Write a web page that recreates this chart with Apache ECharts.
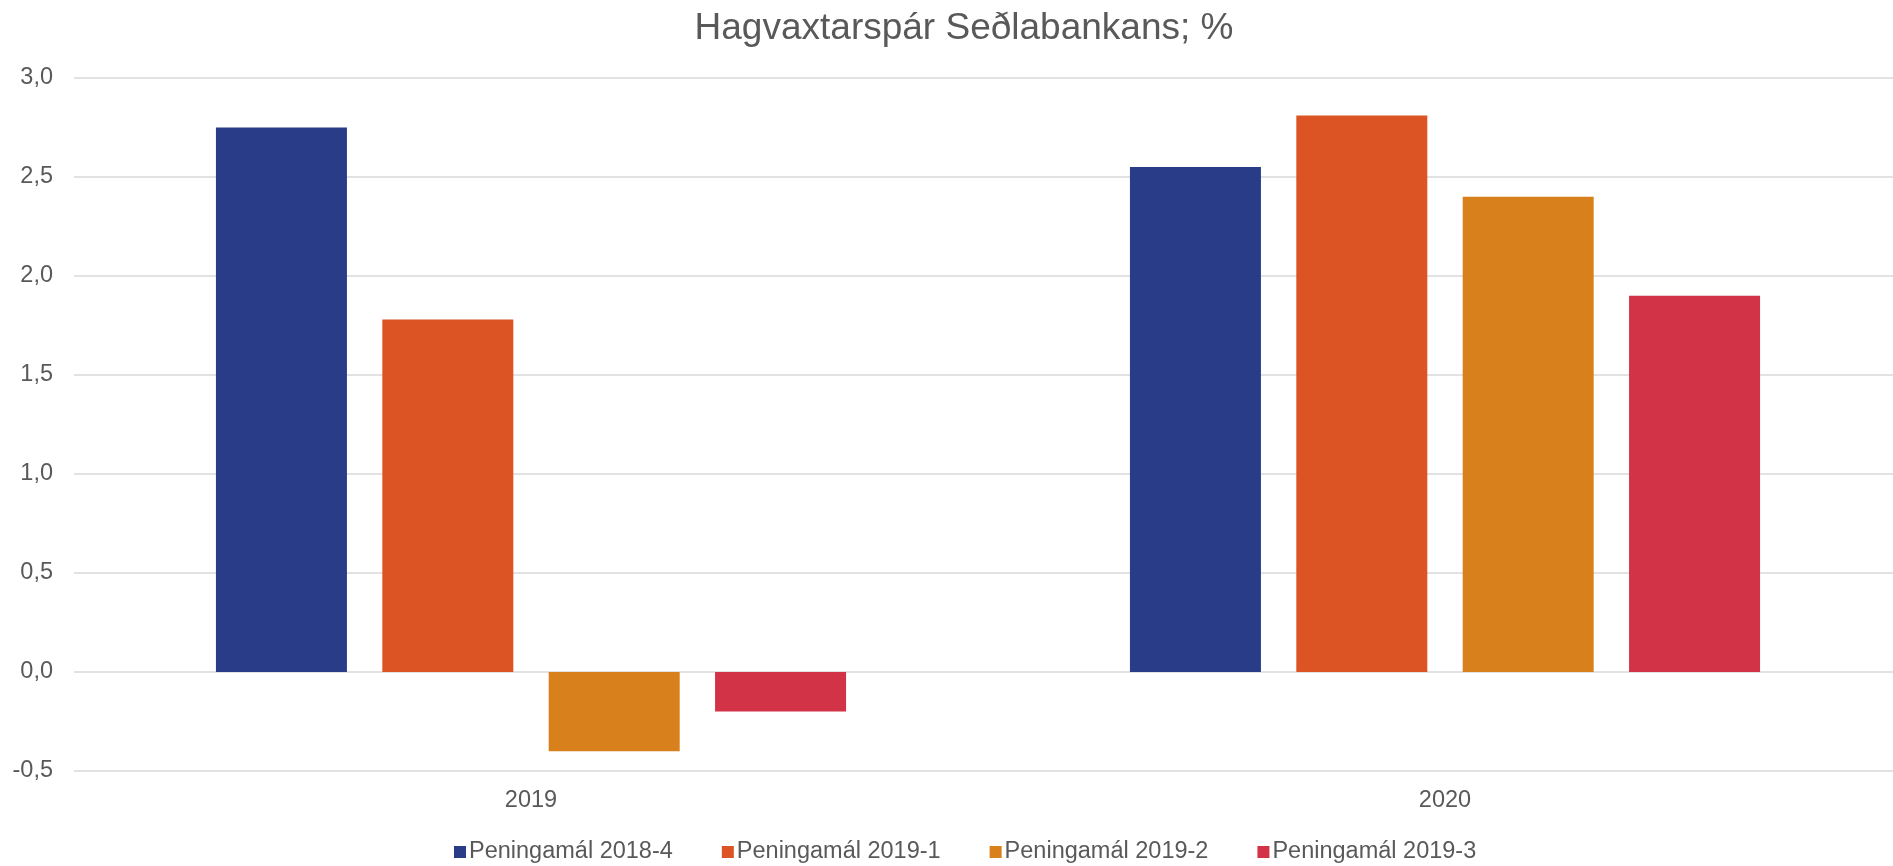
<!DOCTYPE html>
<html>
<head>
<meta charset="utf-8">
<script src="https://cdn.jsdelivr.net/npm/echarts@6/dist/echarts.min.js"></script>
<style>html,body{margin:0;padding:0;background:#fff;overflow:hidden;width:1893px;height:866px}#c{width:1928px;height:866px}</style>
</head>
<body>
<div id="c"></div>
<script>
const categories = ['2019', '2020'];
const seriesNames = ['Peningamál 2018-4', 'Peningamál 2019-1', 'Peningamál 2019-2', 'Peningamál 2019-3'];
const pm2018_4 = [2.75, 2.55];
const pm2019_1 = [1.78, 2.81];
const pm2019_2 = [-0.4, 2.4];
const pm2019_3 = [-0.2, 1.9];
const colors = ['#293C88', '#DC5324', '#D8801C', '#D23347'];
const titleText = 'Hagvaxtarspár Seðlabankans; %';

const values = [pm2018_4, pm2019_1, pm2019_2, pm2019_3];
const font = '"Liberation Sans", Arial, sans-serif';
const chart = echarts.init(document.getElementById('c'), null, {renderer: 'canvas'});
chart.setOption({
  animation: false,
  color: colors,
  title: {
    text: titleText,
    left: 'center',
    top: 5,
    textStyle: {fontFamily: font, fontSize: 37, fontWeight: 'normal', color: '#595959'}
  },
  legend: {
    left: 449,
    top: 835,
    itemWidth: 12,
    itemHeight: 12,
    itemGap: 49,
    icon: 'rect',
    textStyle: {fontFamily: font, fontSize: 23.5, color: '#595959', padding: [0, 0, 0, -2]},
    data: seriesNames
  },
  grid: {left: 74, width: 1828, top: 78, bottom: 95, containLabel: false},
  xAxis: {
    type: 'category',
    data: categories,
    axisLine: {show: false, onZero: false},
    axisTick: {show: false},
    axisLabel: {fontFamily: font, fontSize: 23.5, color: '#595959', margin: 18}
  },
  yAxis: {
    type: 'value',
    min: -0.5,
    max: 3,
    interval: 0.5,
    axisLine: {show: false},
    axisTick: {show: false},
    splitLine: {lineStyle: {color: '#D9D9D9', width: 1.5}},
    axisLabel: {
      fontFamily: font, fontSize: 23.5, color: '#595959', margin: 21,
      formatter: v => v.toFixed(1).replace('.', ',')
    }
  },
  series: seriesNames.map((n, i) => ({
    name: n,
    type: 'bar',
    data: values[i],
    barWidth: 131,
    barGap: '27%',
    itemStyle: {color: colors[i]}
  }))
});
</script>
</body>
</html>
